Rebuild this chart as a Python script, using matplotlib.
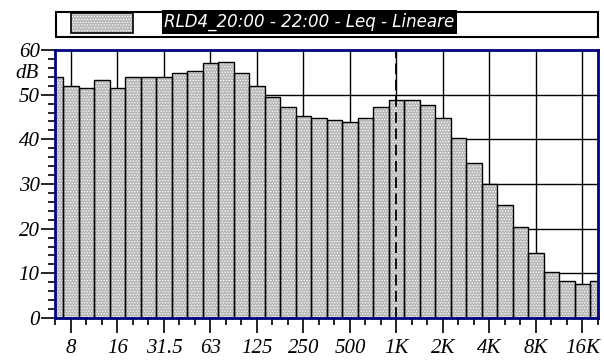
import numpy as np
import matplotlib.pyplot as plt
from matplotlib.patches import Rectangle

# Bande di terzo d'ottava da 6.3 Hz a 20 kHz
bande = ['6.3', '8', '10', '12.5', '16', '20', '25', '31.5', '40', '50',
         '63', '80', '100', '125', '160', '200', '250', '315', '400', '500',
         '630', '800', '1K', '1.25K', '1.6K', '2K', '2.5K', '3.15K', '4K', '5K',
         '6.3K', '8K', '10K', '12.5K', '16K', '20K']
leq_db = [54.0, 52.0, 51.4, 53.2, 51.4, 54.0, 54.0, 54.0, 54.9, 55.4,
          57.0, 57.4, 54.9, 52.0, 49.5, 47.3, 45.3, 44.7, 44.3, 43.9,
          44.7, 47.3, 48.9, 48.9, 47.6, 44.7, 40.2, 34.6, 30.0, 25.4,
          20.3, 14.6, 10.3, 8.3, 7.6, 8.3]
etichette_x = ['8', '16', '31.5', '63', '125', '250', '500', '1K', '2K', '4K', '8K', '16K']
titolo = 'RLD4_20:00 - 22:00 - Leq - Lineare'

blu = '#000080'
grigio = '#b8b8b8'
serif_it = dict(family='Liberation Serif', style='italic', size=15)

plt.rcParams['hatch.linewidth'] = 0.6

idx = np.arange(len(bande))
ott = [bande.index(b) for b in etichette_x]

fig = plt.figure(figsize=(6.04, 3.6), dpi=100)
ax = fig.add_axes([55 / 604, 1 - 318 / 360, 543 / 604, 268 / 360])

# griglia dietro le barre
for v in ott:
    ax.axvline(v, color='black', lw=1, zorder=0)
for h in range(10, 60, 10):
    ax.axhline(h, color='black', lw=1, zorder=0)

# barre puntinate: riempimento con tratteggio bianco, poi il bordo nero sopra
ax.bar(idx, leq_db, width=1.0, color=grigio, edgecolor='white', linewidth=0,
       hatch='......', zorder=2)
ax.bar(idx, leq_db, width=1.0, facecolor='none', edgecolor='black', linewidth=1, zorder=2.5)

# cursore a 1 kHz
ax.axvline(bande.index('1K'), color='black', lw=1.3, ls=(0, (6, 3)), zorder=3)

ax.set_xlim(-0.03, 34.9)
ax.set_ylim(0, 60)

ax.set_xticks(ott)
ax.set_xticklabels(etichette_x, fontdict=serif_it)
ax.set_xticks(idx, minor=True)
ax.set_yticks(range(0, 61, 10))
ax.set_yticklabels([str(v) for v in range(0, 61, 10)], fontdict=serif_it)
ax.set_yticks(range(0, 61, 2), minor=True)
ax.tick_params(axis='x', which='major', length=11, width=1.2, pad=4, direction='out')
ax.tick_params(axis='x', which='minor', length=5, width=1.2, direction='out')
ax.tick_params(axis='y', which='major', length=10, width=1.2, pad=1, direction='out')
ax.tick_params(axis='y', which='minor', length=5, width=1.2, direction='out')

for s in ax.spines.values():
    s.set_color(blu)
    s.set_linewidth(2)
    s.set_zorder(4)

fig.text(27 / 604, 1 - 73 / 360, 'dB', ha='center', va='center', **serif_it)

# riquadro della legenda in alto
fig.patches.append(Rectangle((56 / 604, 1 - 37 / 360), 542 / 604, 25 / 360,
                             transform=fig.transFigure, facecolor='white',
                             edgecolor='black', lw=1.5))
fig.patches.append(Rectangle((71 / 604, 1 - 33 / 360), 62 / 604, 20 / 360,
                             transform=fig.transFigure, facecolor=grigio,
                             edgecolor='white', lw=0, hatch='......'))
fig.patches.append(Rectangle((71 / 604, 1 - 33 / 360), 62 / 604, 20 / 360,
                             transform=fig.transFigure, facecolor='none',
                             edgecolor='black', lw=1.2))
fig.text(164 / 604, 1 - 22 / 360, titolo, ha='left', va='center', color='white',
         family='DejaVu Sans', style='italic', size=12,
         bbox=dict(boxstyle='square,pad=0.15', facecolor='black', edgecolor='none'))

fig.savefig('out.png', dpi=100)
